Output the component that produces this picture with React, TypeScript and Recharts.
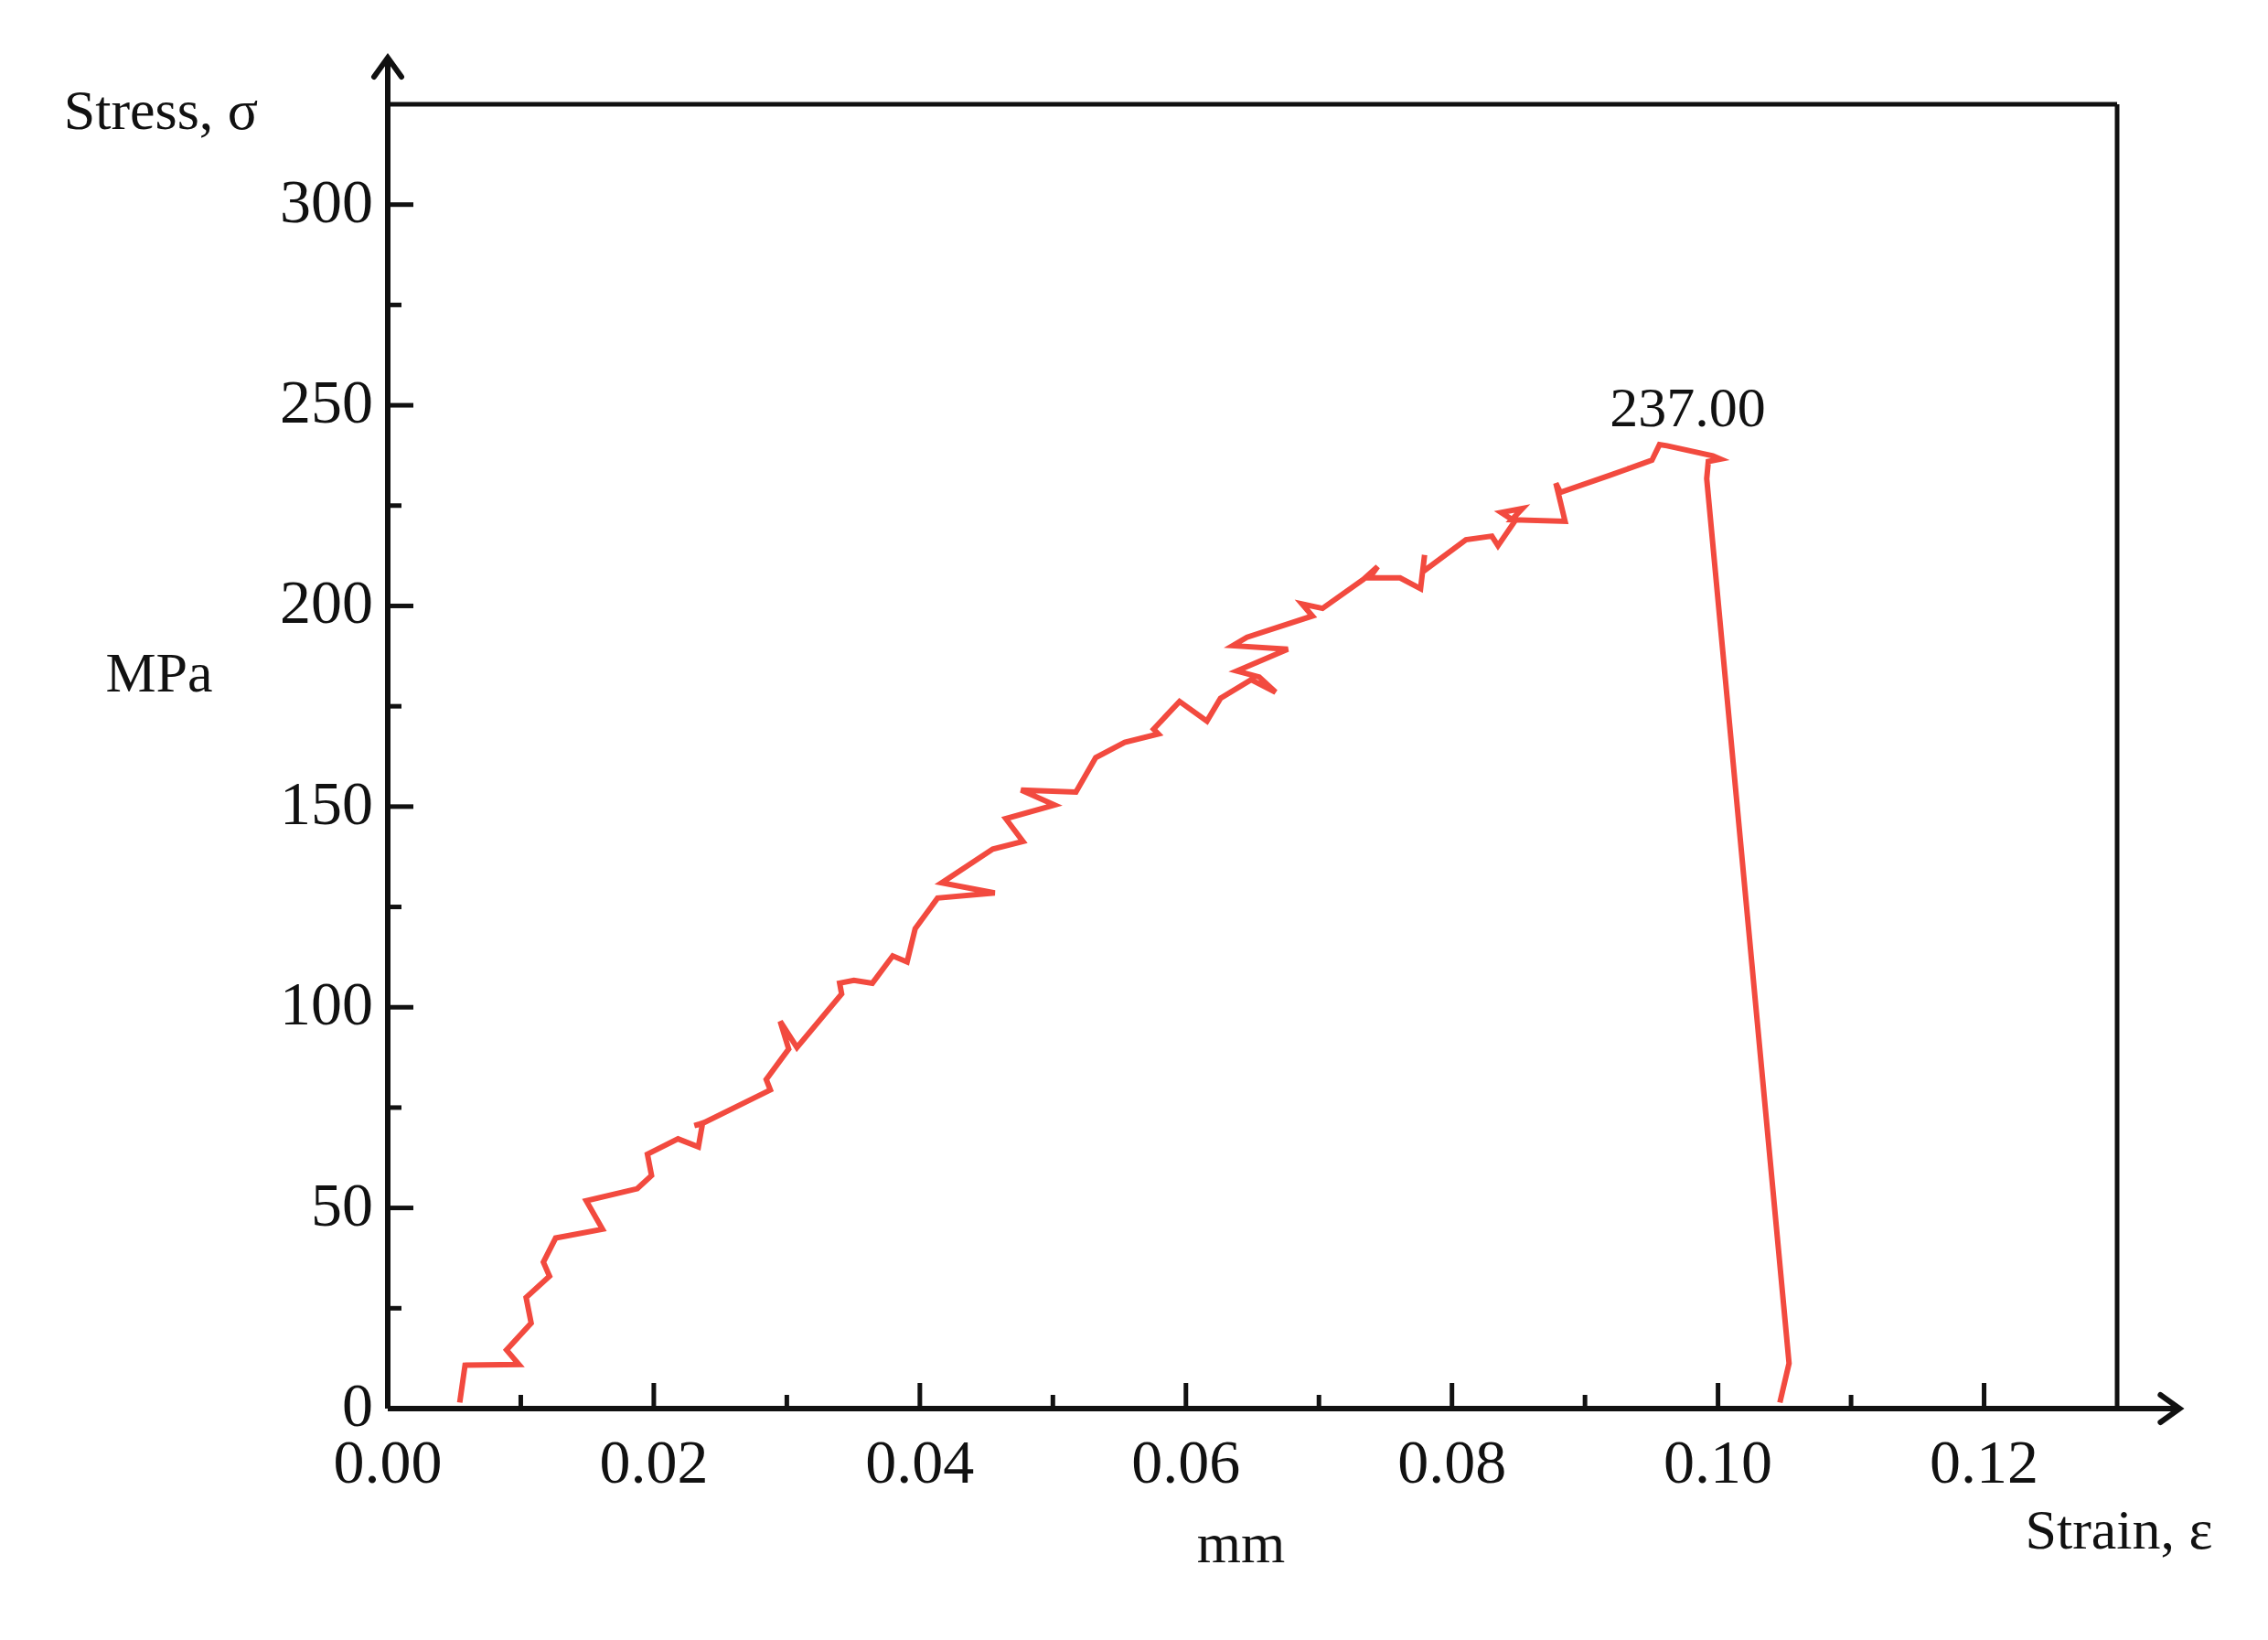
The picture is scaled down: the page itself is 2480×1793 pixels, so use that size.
import React from "react";
import {
  LineChart,
  Line,
  XAxis,
  YAxis,
  ReferenceLine,
  ReferenceDot,
  Label,
} from "recharts";

const FONT = '"Liberation Serif", "Times New Roman", serif';
const RED = "#f24a3f";
const INK = "#111";

// strain (mm) and stress (MPa) in drawing order
const strain: number[] = [
  0.00541, 0.00581, 0.00986, 0.00893, 0.01078, 0.0104, 0.01216, 0.0117, 0.01262, 0.01614,
  0.01492, 0.01876, 0.01983, 0.01952, 0.02182, 0.02335, 0.02366, 0.02305, 0.0238, 0.02876,
  0.02845, 0.03014, 0.0295, 0.03076, 0.03412, 0.03397, 0.03504, 0.03643, 0.03796, 0.03904,
  0.03965, 0.04133, 0.04563, 0.04164, 0.04548, 0.04775, 0.04646, 0.05012, 0.04761, 0.05173,
  0.05322, 0.0554, 0.05792, 0.05757, 0.05952, 0.06158, 0.0626, 0.0649, 0.06674, 0.06551,
  0.06383, 0.06766, 0.06352, 0.06459, 0.06951, 0.06873, 0.07027, 0.07334, 0.07441, 0.0738,
  0.0761, 0.07764, 0.07794, 0.0778, 0.08105, 0.083, 0.08346, 0.08472, 0.0837, 0.0853,
  0.0845, 0.0885, 0.08781, 0.08815, 0.09182, 0.09503, 0.0956, 0.09617, 0.09961, 0.10018,
  0.09927, 0.09915, 0.10534, 0.10465,
];
const stress: number[] = [
  1.5, 10.8, 11.0, 14.6, 21.3, 27.7, 33.0, 36.5, 42.5, 44.7,
  51.8, 54.8, 58.1, 63.4, 67.2, 65.2, 71.0, 70.5, 71.3, 79.4,
  82.0, 89.6, 96.5, 90.0, 103.3, 106.0, 106.7, 106.0, 112.8, 111.3,
  119.6, 127.2, 128.5, 131.0, 139.4, 141.3, 147.0, 150.4, 154.1, 153.6,
  162.2, 166.0, 168.1, 169.3, 176.2, 171.3, 177.0, 181.6, 178.5, 182.3,
  183.8, 189.2, 190.1, 192.2, 197.5, 200.5, 199.4, 206.6, 209.8, 207.0,
  207.0, 204.3, 212.7, 208.5, 216.5, 217.4, 215.0, 221.1, 223.3, 224.3,
  221.5, 221.1, 230.6, 228.3, 232.5, 236.3, 240.2, 239.9, 237.4, 236.6,
  236.0, 231.7, 11.3, 1.5,
];

const xTicks: number[] = [0, 0.01, 0.02, 0.03, 0.04, 0.05, 0.06, 0.07, 0.08, 0.09, 0.1, 0.11, 0.12];
const yTicks: number[] = [0, 25, 50, 75, 100, 125, 150, 175, 200, 225, 250, 275, 300];
const X_MAX = 0.13;
const Y_MAX = 325;
const X_ARROW = 0.1347;
const Y_ARROW = 336.6;
const peakLabel = "237.00";

const data = strain.map((s, i) => ({ strain: s, stress: stress[i] }));
const peakIdx = stress.indexOf(Math.max(...stress));

const XTick = (props: any) => {
  const { x, y, payload } = props;
  const v: number = payload.value;
  const major = Math.round(v * 100) % 2 === 0;
  return (
    <g>
      <line x1={x} y1={y} x2={x} y2={y - (major ? 28 : 15)} stroke={INK} strokeWidth={5} />
      {major && (
        <text x={x} y={y + 81} textAnchor="middle" fontSize={68} fontFamily={FONT} fill={INK}>
          {v.toFixed(2)}
        </text>
      )}
    </g>
  );
};

const YTick = (props: any) => {
  const { x, y, payload } = props;
  const v: number = payload.value;
  const major = v % 50 === 0;
  return (
    <g>
      <line x1={x} y1={y} x2={x + (major ? 28 : 15)} y2={y} stroke={INK} strokeWidth={5} />
      {major && (
        <text x={x - 16} y={y + 19} textAnchor="end" fontSize={68} fontFamily={FONT} fill={INK}>
          {v}
        </text>
      )}
    </g>
  );
};

// axis line with an open chevron at its far end
const Arrow = (props: any) => {
  const { x1, y1, x2, y2 } = props;
  const dx = x2 - x1;
  const dy = y2 - y1;
  const len = Math.sqrt(dx * dx + dy * dy) || 1;
  const ux = dx / len;
  const uy = dy / len;
  const back = 21;
  const side = 15;
  const ax = x2 - ux * back - uy * side;
  const ay = y2 - uy * back + ux * side;
  const bx = x2 - ux * back + uy * side;
  const by = y2 - uy * back - ux * side;
  return (
    <g>
      <line x1={x1} y1={y1} x2={x2} y2={y2} stroke={INK} strokeWidth={6} />
      <polyline
        points={`${ax},${ay} ${x2},${y2} ${bx},${by}`}
        fill="none"
        stroke={INK}
        strokeWidth={6}
        strokeLinecap="round"
        strokeLinejoin="miter"
      />
    </g>
  );
};

const PeakLabel = (props: any) => {
  const vb = props.viewBox || {};
  return (
    <text x={vb.x + 31} y={vb.y - 20} textAnchor="middle" fontSize={62} fontFamily={FONT} fill={INK}>
      {peakLabel}
    </text>
  );
};

export default function App() {
  return (
    <div style={{ position: "absolute", left: 0, top: 0, background: "#fff" }}>
      <LineChart
        width={2480}
        height={1793}
        data={data}
        margin={{ top: 114, right: 165, bottom: 0, left: 0 }}
      >
        <XAxis
          type="number"
          dataKey="strain"
          domain={[0, X_MAX]}
          ticks={xTicks}
          allowDataOverflow
          axisLine={false}
          tickLine={false}
          tickSize={0}
          tickMargin={0}
          height={253}
          tick={<XTick />}
          interval={0}
        >
          <Label
            content={() => (
              <g fontFamily={FONT} fontSize={62} fill={INK}>
                <text x={1357} y={1708} textAnchor="middle">mm</text>
                <text x={2317} y={1693} textAnchor="middle">Strain, ε</text>
              </g>
            )}
          />
        </XAxis>
        <YAxis
          type="number"
          domain={[0, Y_MAX]}
          ticks={yTicks}
          allowDataOverflow
          axisLine={false}
          tickLine={false}
          tickSize={0}
          tickMargin={0}
          width={424}
          tick={<YTick />}
          interval={0}
        >
          <Label
            content={() => (
              <g fontFamily={FONT} fontSize={62} fill={INK}>
                <text x={176} y={141} textAnchor="middle">Stress, σ</text>
                <text x={174} y={756} textAnchor="middle">MPa</text>
              </g>
            )}
          />
        </YAxis>
        <ReferenceLine y={Y_MAX} stroke={INK} strokeWidth={5} />
        <ReferenceLine x={X_MAX} stroke={INK} strokeWidth={5} />
        <ReferenceLine
          segment={[{ x: 0, y: 0 }, { x: 0, y: Y_ARROW }]}
          ifOverflow="visible"
          shape={(p: any) => <Arrow {...p} />}
        />
        <ReferenceLine
          segment={[{ x: 0, y: 0 }, { x: X_ARROW, y: 0 }]}
          ifOverflow="visible"
          shape={(p: any) => <Arrow {...p} />}
        />
        <Line
          type="linear"
          dataKey="stress"
          stroke={RED}
          strokeWidth={6}
          strokeLinejoin="miter"
          dot={false}
          activeDot={false}
          isAnimationActive={false}
        />
        <ReferenceDot
          x={strain[peakIdx]}
          y={stress[peakIdx]}
          r={0}
          fill="none"
          stroke="none"
          label={<PeakLabel />}
        />
      </LineChart>
    </div>
  );
}
